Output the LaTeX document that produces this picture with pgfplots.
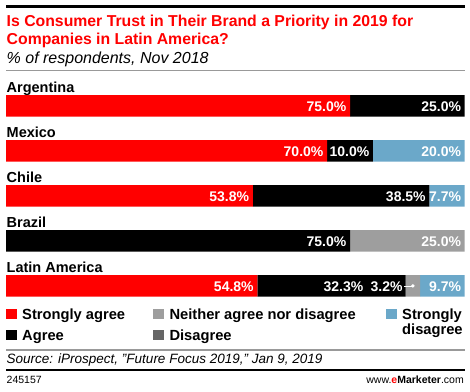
\documentclass[border=0pt]{standalone}
\usepackage{pgfplots}
\pgfplotsset{compat=1.18}
\usepackage{fontspec}
\setmainfont{Liberation Sans}
\definecolor{emred}{HTML}{FF0000}
\definecolor{emblue}{HTML}{6BA8C9}
\definecolor{emgray}{HTML}{9E9E9E}
\definecolor{emdgray}{HTML}{666666}
\definecolor{rulegray}{HTML}{999999}
\newcommand{\fs}[1]{\fontsize{#1}{#1}\selectfont}
\begin{document}
\begin{tikzpicture}[x=1pt,y=1pt]
\path[use as bounding box] (0,0) rectangle (470,391);
% top rule
\fill[black] (6,391-8.5) rectangle (465,391-5.5);
% title
\node[anchor=base west,inner sep=0pt,text=emred] at (6.5,391-26.7) {\fs{15.8}\bfseries Is Consumer Trust in Their Brand a Priority in 2019 for};
\node[anchor=base west,inner sep=0pt,text=emred] at (6.5,391-44.2) {\fs{15.8}\bfseries Companies in Latin America?};
\node[anchor=base west,inner sep=0pt] at (6.5,391-63.3) {\fs{16}\itshape \% of respondents, Nov 2018};
\fill[rulegray] (6,391-71) rectangle (465,391-69.8);
% category labels
\foreach \lab/\yy in {Argentina/92.7,Mexico/137.7,Chile/182.7,Brazil/227.7,Latin America/272.7}{
  \node[anchor=base west,inner sep=0pt] at (6.5,391-\yy) {\fs{14.5}\bfseries \lab};
}
\begin{axis}[
  at={(6pt,94.3pt)}, anchor=south west,
  scale only axis, width=458.7pt, height=201.5pt,
  xbar stacked, bar width=21.5pt,
  xmin=0, xmax=100,
  ymin=-0.2389, ymax=4.2389, y dir=reverse,
  hide axis, clip=false,
  point meta=explicit symbolic,
  visualization depends on={rawx \as \rawx},
  nodes near coords={\pgfplotspointmeta},
  every node near coord/.append style={anchor=east,xshift={\rawx*2.2935pt-3.5pt},yshift=-0.5pt,text=white,font=\fs{14}\bfseries,inner sep=0pt},
]
\addplot[fill=emred,draw=none] coordinates {(75,0)[75.0\%] (70,1)[70.0\%] (53.8,2)[53.8\%] (0,3)[] (54.8,4)[54.8\%]};
\addplot[fill=black,draw=none] coordinates {(25,0)[25.0\%] (10,1)[10.0\%] (38.5,2)[38.5\%] (75,3)[75.0\%] (32.3,4)[]};
\addplot[fill=emgray,draw=none] coordinates {(0,0)[] (0,1)[] (0,2)[] (25,3)[25.0\%] (3.2,4)[]};
\addplot[fill=emdgray,draw=none] coordinates {(0,0)[] (0,1)[] (0,2)[] (0,3)[] (0,4)[]};
\addplot[fill=emblue,draw=none] coordinates {(0,0)[] (20,1)[20.0\%] (7.7,2)[7.7\%] (0,3)[] (9.7,4)[9.7\%]};
\coordinate (gstart) at (axis cs:87.1,4);
\coordinate (gmid) at (axis cs:88.7,4);
\end{axis}
% leader label for 3.2% and shifted 32.3%
\draw[white,line width=0.8pt] ([xshift=-1.5pt]gstart) -- (gmid);
\fill[white] (gmid) circle[radius=1.9pt];
\node[anchor=east,inner sep=0pt,text=white,font=\fs{14}\bfseries] at ([xshift=-2.8pt,yshift=-0.5pt]gstart) {3.2\%};
\node[anchor=east,inner sep=0pt,text=white,font=\fs{14}\bfseries] at ([xshift=-42pt,yshift=-0.5pt]gstart) {32.3\%};
% legend
\fill[emred] (6,391-319.3) rectangle (16.7,391-309.3);
\node[anchor=base west,inner sep=0pt] at (22,391-319.5) {\fs{14.7}\bfseries Strongly agree};
\fill[black] (6,391-340.3) rectangle (16.7,391-330.3);
\node[anchor=base west,inner sep=0pt] at (22,391-340.5) {\fs{14.7}\bfseries Agree};
\fill[emgray] (152.7,391-319.3) rectangle (163.5,391-309.3);
\node[anchor=base west,inner sep=0pt] at (169.3,391-319.5) {\fs{14.7}\bfseries Neither agree nor disagree};
\fill[emdgray] (152.7,391-340.3) rectangle (163.5,391-330.3);
\node[anchor=base west,inner sep=0pt] at (169.3,391-340.5) {\fs{14.7}\bfseries Disagree};
\fill[emblue] (386,391-319.3) rectangle (397,391-309.3);
\node[anchor=base west,inner sep=0pt] at (402,391-319.5) {\fs{14.7}\bfseries Strongly};
\node[anchor=base west,inner sep=0pt] at (402,391-334) {\fs{14.7}\bfseries disagree};
% bottom rules
\fill[rulegray] (6,391-350.6) rectangle (465,391-349.4);
\node[anchor=base west,inner sep=0pt] at (6.5,391-363.5) {\fs{13.5}\itshape Source: iProspect, "Future Focus 2019," Jan 9, 2019};
\fill[black] (6,391-371.3) rectangle (465,391-368.7);
\node[anchor=base west,inner sep=0pt] at (6.5,391-383.5) {\fs{10.5}245157};
\node[anchor=base east,inner sep=0pt] at (464,391-383.5) {\fs{10.5}www.{\bfseries\textcolor{emred}{e}Marketer}.com};
\end{tikzpicture}
\end{document}
